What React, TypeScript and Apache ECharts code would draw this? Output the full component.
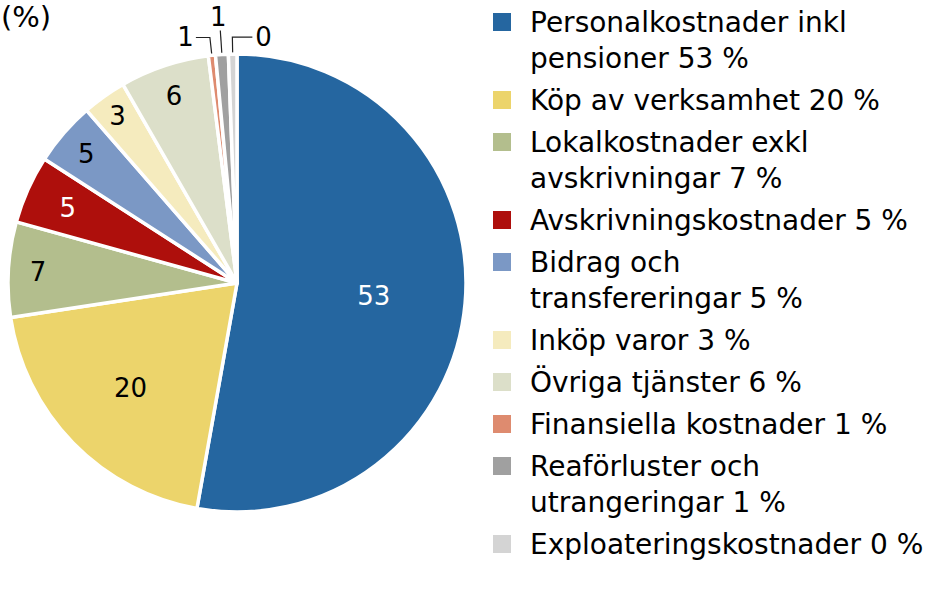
import React, { useEffect, useRef } from "react";
import * as echarts from "echarts";

const categories = [
  "Personalkostnader inkl pensioner",
  "Köp av verksamhet",
  "Lokalkostnader exkl avskrivningar",
  "Avskrivningskostnader",
  "Bidrag och transfereringar",
  "Inköp varor",
  "Övriga tjänster",
  "Finansiella kostnader",
  "Reaförluster och utrangeringar",
  "Exploateringskostnader",
];
const legendNames = [
  "Personalkostnader inkl\npensioner",
  "Köp av verksamhet",
  "Lokalkostnader exkl\navskrivningar",
  "Avskrivningskostnader",
  "Bidrag och\ntransfereringar",
  "Inköp varor",
  "Övriga tjänster",
  "Finansiella kostnader",
  "Reaförluster och\nutrangeringar",
  "Exploateringskostnader",
];
// shares
const shares = [52.8, 19.8, 6.7, 4.8, 4.5, 3.1, 6.3, 0.5, 0.9, 0.6];
// rounded percentages as printed
const shownPercent = [53, 20, 7, 5, 5, 3, 6, 1, 1, 0];

const colors = [
  "#2566a0",
  "#ecd46b",
  "#b3be8d",
  "#ae0f0c",
  "#7b98c5",
  "#f5ebbe",
  "#dcdfc9",
  "#de8b6f",
  "#a0a0a0",
  "#d4d4d4",
];
const labelColors = ["#ffffff", "#000", "#000", "#ffffff", "#000", "#000", "#000", "#000", "#000", "#000"];
// radial position of inside labels as a fraction of the radius
const labelRadius = [0.6, 0.65, 0.87, 0.81, 0.87, 0.9, 0.865];
const outsideIdx = [7, 8, 9];

const FONT = "DejaVu Sans";
const CX = 237;
const CY = 283;
const R = 229;

export default function App() {
  const ref = useRef<HTMLDivElement>(null);
  useEffect(() => {
    document.body.style.margin = "0";
    if (!ref.current) return;
    const chart = echarts.init(ref.current, undefined, { renderer: "svg" });
    const total = shares.reduce((a, b) => a + b, 0);
    const mid = (i: number) => {
      let s = 0;
      for (let j = 0; j < i; j++) s += shares[j];
      return ((s + shares[i] / 2) / total) * Math.PI * 2;
    };
    const pt = (t: number, r: number) => [CX + r * Math.sin(t), CY - r * Math.cos(t)];

    const data = categories.map((name, i) => {
      const outside = outsideIdx.includes(i);
      return {
        name,
        value: shares[i],
        itemStyle: { color: colors[i] },
        label: {
          show: true,
          position: outside ? "outside" : "inside",
          color: labelColors[i],
          formatter: String(shownPercent[i]),
        },
        labelLine: { show: outside },
      };
    });

    const rich: Record<string, any> = {
      g: { width: 19 },
      ind: { width: 37 },
    };
    colors.forEach((c, i) => {
      rich["c" + i] = { width: 18, height: 18, backgroundColor: c };
    });

    chart.setOption({
      animation: false,
      title: {
        text: "(%)",
        left: 1,
        top: 2,
        padding: 0,
        textStyle: { fontFamily: FONT, fontSize: 29, fontWeight: "normal", color: "#000" },
      },
      legend: {
        orient: "vertical",
        left: 488,
        top: 4,
        padding: 0,
        itemWidth: 0,
        itemHeight: 0,
        itemGap: 6,
        icon: "rect",
        selectedMode: false,
        itemStyle: { borderWidth: 0, opacity: 0 },
        data: categories,
        formatter: (name: string) => {
          const i = categories.indexOf(name);
          const lines = `${legendNames[i]} ${shownPercent[i]} %`.split("\n");
          return lines
            .map((l, k) => (k === 0 ? `{c${i}| }{g| }${l}` : `{ind| }${l}`))
            .join("\n");
        },
        textStyle: { fontFamily: FONT, fontSize: 28, color: "#000", lineHeight: 36, rich },
      },
      series: [
        {
          type: "pie",
          center: [CX, CY],
          radius: R,
          startAngle: 90,
          clockwise: true,
          avoidLabelOverlap: false,
          emphasis: { disabled: true },
          itemStyle: { borderColor: "#fff", borderWidth: 3.5 },
          label: { fontFamily: FONT, fontSize: 26 },
          labelLine: { lineStyle: { color: "#222", width: 1.2 }, length: 10, length2: 10 },
          labelLayout: (params: any) => {
            const i = params.dataIndex;
            const t = mid(i);
            if (i === 7) {
              const p0 = pt(t, R - 1);
              const p1 = pt(t, R + 18);
              const p2 = [p1[0] - 14, p1[1]];
              return { x: p2[0] - 2, y: p2[1], align: "right", verticalAlign: "middle", labelLinePoints: [p0, p1, p2] };
            }
            if (i === 8) {
              const p0 = pt(t, R - 1);
              const p1 = pt(t, R + 24);
              return { x: p1[0] - 2, y: p1[1] - 1, align: "center", verticalAlign: "bottom", labelLinePoints: [p0, p1, p1] };
            }
            if (i === 9) {
              const p0 = pt(t, R - 1);
              const p1 = pt(t, R + 17);
              const p2 = [p1[0] + 20, p1[1]];
              return { x: p2[0] + 3, y: p2[1], align: "left", verticalAlign: "middle", labelLinePoints: [p0, p1, p2] };
            }
            const p = pt(t, R * labelRadius[i]);
            return { x: p[0], y: p[1] + 1, align: "center", verticalAlign: "middle" };
          },
          data,
        },
      ],
    });
    return () => chart.dispose();
  }, []);
  return <div ref={ref} style={{ width: 927, height: 596 }} />;
}
